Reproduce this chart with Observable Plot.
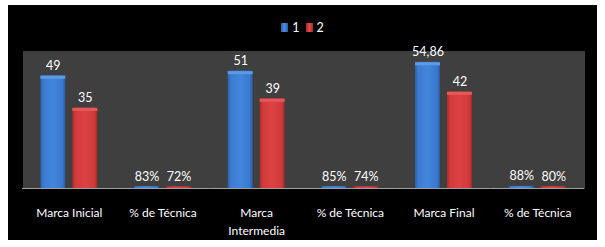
<!DOCTYPE html>
<html>
<head>
<meta charset="utf-8">
<script src="https://cdn.jsdelivr.net/npm/d3@7"></script>
<script src="https://cdn.jsdelivr.net/npm/@observablehq/plot@0.6"></script>
<style>
  html, body { margin: 0; padding: 0; background: #ffffff; }
  #wrap { position: absolute; left: 8px; top: 5px; width: 589px; height: 235px; background: #000; overflow: hidden; font-family: Lato, "Open Sans", sans-serif; }
  #legend { height: 40px; display: flex; justify-content: center; align-items: center; padding-top: 4px; box-sizing: border-box; color: #fff; font-size: 12.5px; }
  .item { display: flex; align-items: center; margin: 0 3px; }
  .sw { width: 7px; height: 9px; margin-right: 4px; }
  #chart svg { display: block; }
</style>
</head>
<body>
<div id="wrap">
  <div id="legend"></div>
  <div id="chart"></div>
</div>
<script>
// ---- data ----
const categories = ["Marca Inicial", "% de Técnica", "Marca\nIntermedia", "% de Técnica", "Marca Final", "% de Técnica"];
const seriesNames = ["1", "2"];
const series1 = [49, 0.83, 51, 0.85, 54.86, 0.88];
const series2 = [35, 0.72, 39, 0.74, 42, 0.80];
const labels1 = ["49", "83%", "51", "85%", "54,86", "88%"];
const labels2 = ["35", "72%", "39", "74%", "42", "80%"];
const yDomain = [0, 60];

const rows = [];
categories.forEach((c, i) => {
  rows.push({i, series: "1", value: series1[i], label: labels1[i]});
  rows.push({i, series: "2", value: series2[i], label: labels2[i]});
});
const catRows = categories.map((label, i) => ({i, label}));

const chart = Plot.plot({
  width: 589,
  height: 195,
  marginLeft: 14,
  marginRight: 13,
  marginTop: 5,
  marginBottom: 52,
  style: {background: "#000", color: "#fff", fontFamily: "Lato, 'Open Sans', sans-serif", fontSize: "12px", overflow: "visible"},
  fx: {domain: categories.map((c, i) => i), padding: 0, round: false, axis: null},
  x: {domain: seriesNames, paddingInner: 0.22, paddingOuter: 0.575, round: false, axis: null},
  y: {domain: yDomain, axis: null},
  color: {domain: seriesNames, range: ["url(#gBlue)", "url(#gRed)"]},
  marks: [
    Plot.frame({fill: "#3f3f3f", stroke: "none", shapeRendering: "crispEdges"}),
    Plot.barY(rows, {fx: "i", x: "series", y: "value", fill: "series"}),
    Plot.tickY(rows.filter(d => d.value > 5), {fx: "i", x: "series", y: "value", dy: 1.5, strokeWidth: 3,
      stroke: d => d.series === "1" ? "#5b9ae6" : "#e65858"}),
    Plot.ruleY([0], {stroke: "#a0a0a0", strokeWidth: 1}),
    Plot.text(rows, {fx: "i", x: "series", y: "value", text: "label", dy: -10, fill: "#fff", fontSize: 12.5}),
    Plot.text(catRows, {fx: "i", text: "label", frameAnchor: "bottom", lineAnchor: "top", dy: 15, lineHeight: 1.55, fill: "#fff", fontSize: 12})
  ]
});

// gradients
const ns = "http://www.w3.org/2000/svg";
const defs = document.createElementNS(ns, "defs");
function grad(id, stops) {
  const g = document.createElementNS(ns, "linearGradient");
  g.setAttribute("id", id);
  g.setAttribute("x1", "0"); g.setAttribute("x2", "1"); g.setAttribute("y1", "0"); g.setAttribute("y2", "0");
  stops.forEach(([o, c]) => {
    const s = document.createElementNS(ns, "stop");
    s.setAttribute("offset", o); s.setAttribute("stop-color", c);
    g.appendChild(s);
  });
  defs.appendChild(g);
}
grad("gBlue", [["0", "#2c5fa8"], ["0.12", "#3c7bd2"], ["0.5", "#4286dc"], ["0.88", "#3a78cf"], ["1", "#2a5aa0"]]);
grad("gRed", [["0", "#a82c2c"], ["0.12", "#d23a3a"], ["0.5", "#dc4242"], ["0.88", "#cf3a3a"], ["1", "#a02a2a"]]);
chart.insertBefore(defs, chart.firstChild);
document.getElementById("chart").appendChild(chart);

// legend
const legend = document.getElementById("legend");
const swatchCss = ["linear-gradient(90deg,#2c5fa8,#4a8ee4 50%,#2a5aa0)", "linear-gradient(90deg,#a82c2c,#e44a4a 50%,#a02a2a)"];
seriesNames.forEach((s, k) => {
  const it = document.createElement("div"); it.className = "item";
  const sw = document.createElement("div"); sw.className = "sw"; sw.style.background = swatchCss[k];
  const t = document.createElement("span"); t.textContent = s;
  it.appendChild(sw); it.appendChild(t); legend.appendChild(it);
});
</script>
</body>
</html>
